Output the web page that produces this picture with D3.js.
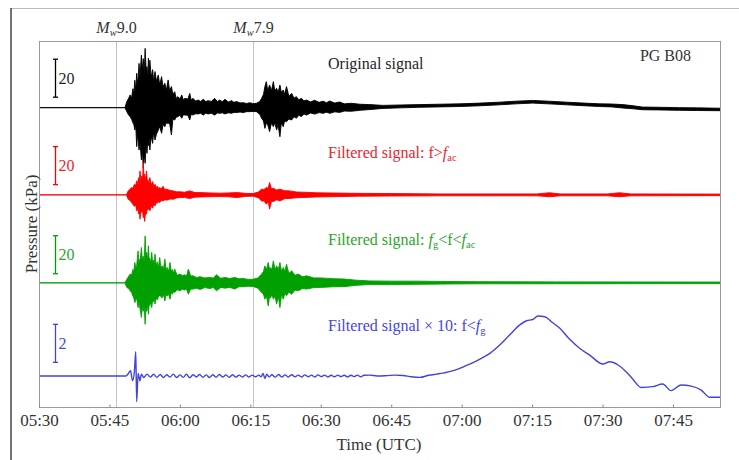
<!DOCTYPE html>
<html><head><meta charset="utf-8">
<script src="https://cdn.jsdelivr.net/npm/d3@7"></script>
<style>
body{margin:0;background:#fff}
svg{display:block}
text{font-family:"Liberation Serif","Times New Roman",serif}
</style>
</head><body>
<svg id="c" width="739" height="460"></svg>
<script>
// ---------------- DATA ----------------
// time in minutes after 05:30 UTC; values in kPa: [t, upper, lower]
const blackTrace = [[0,0,0],[18.3,0,0],[18.7,3.2,-2.1],[19.1,5,-4],[19.4,6.7,-4.7],[19.7,5,-6],[20.0,10,-8],[20.2,7,-9],[20.4,14.4,-11.8],[20.6,9,-9],[20.8,18.1,-20.5],[21.0,12,-14],[21.3,23.3,-22.3],[21.5,16,-18],[21.8,27.7,-27.5],[22.0,20,-22],[22.2,25.8,-31.9],[22.4,18,-24],[22.6,31.2,-29.3],[22.8,20,-20],[23.0,21.6,-24],[23.15,15,-17],[23.3,26,-20],[23.45,17,-16],[23.6,25,-22.3],[23.9,16,-15],[24.2,20,-18.8],[24.4,14,-13],[24.7,19,-17],[25.0,14,-14],[25.4,17.2,-11.8],[25.7,12,-10],[26.1,16.3,-13.5],[26.4,11,-9],[26.8,12.8,-10],[27.1,9,-8],[27.5,14.6,-8.3],[27.8,9,-8],[28.2,11.1,-14.4],[28.5,7,-6],[28.9,8.4,-6.5],[29.2,5,-5],[29.6,5.8,-4.7],[30.0,4.5,-4],[30.4,6.7,-5.6],[30.7,4.2,-3.8],[31.1,4.9,-3.9],[31.7,4.5,-4],[32.1,7.5,-6.5],[32.4,4,-3.5],[32.8,4.9,-3.9],[33.3,3.5,-3.2],[33.9,4.0,-3.3],[34.4,3.3,-3],[35.0,4.4,-3.9],[35.5,3.2,-2.9],[36.0,3.7,-3.3],[36.7,3.3,-3],[37.4,4.9,-3.9],[38.0,3.2,-2.8],[38.5,4.0,-3.0],[39.0,3.1,-2.7],[39.6,4.4,-3.3],[40.3,3.0,-2.7],[41.0,3.7,-3.0],[41.5,2.8,-2.5],[42.1,3.2,-2.6],[42.8,2.5,-2.3],[43.5,2.6,-2.6],[44.2,2.2,-2.1],[44.9,2.6,-2.1],[45.6,2.1,-2.0],[46.3,2.3,-2.1],[47.0,3.2,-3.5],[47.4,4.9,-5.6],[47.8,7,-7],[48.1,11.1,-10.9],[48.4,13.7,-8.2],[48.7,9,-9],[49.1,11.9,-12.6],[49.5,9,-8],[49.9,13.7,-10],[50.2,9,-8],[50.6,10.2,-11.8],[50.9,8,-9],[51.3,11.9,-15.3],[51.6,8,-8],[52.0,9.3,-10],[52.3,7,-7],[52.7,11.1,-7.4],[53.2,6,-6],[53.8,7.5,-6.5],[54.3,5,-4.8],[54.8,5.8,-5.6],[55.3,4.2,-4.0],[55.9,4.9,-4.7],[56.4,3.6,-3.4],[57.0,4.0,-3.9],[57.8,3.0,-2.8],[58.7,3.9,-3.4],[59.6,2.8,-2.6],[60.5,3.4,-3.0],[61.2,2.6,-2.4],[61.9,3.5,-3.0],[63.0,2.4,-2.2],[64.0,3.0,-2.5],[65.0,2.0,-1.8],[66.5,2.3,-1.9],[68.3,1.8,-1.4],[70.5,1.6,-1.0],[73.2,1.2,-0.4],[77,1.4,-0.1],[81.1,1.6,0.2],[85,1.8,0.4],[89.6,2.0,0.6],[94,2.4,1.0],[98.1,2.9,1.5],[101.5,3.4,2.0],[105.1,3.8,2.4],[108.5,3.4,2.0],[112.3,2.9,1.5],[116,2.4,1.0],[119.4,2.0,0.6],[122,1.9,0.4],[124.3,1.6,-0.2],[126.5,1.0,-0.6],[128.5,0.3,-1.1],[132,0.2,-1.2],[136.4,0.0,-1.4],[140,-0.1,-1.5],[145,-0.3,-1.6]];

const redTrace = [[0,0,0],[18.6,0,0],[19.0,2.1,-2.3],[19.4,3,-3],[19.7,3.9,-4.0],[20.0,3.5,-5],[20.3,5.5,-6],[20.6,5,-5.5],[20.8,7.4,-8.4],[21.0,6,-7],[21.2,9,-10],[21.35,7,-8],[21.5,12.6,-12.8],[21.7,8,-9],[21.9,10,-9],[22.05,8,-8],[22.2,17,-12],[22.35,9,-10],[22.5,11,-14],[22.7,8,-9],[22.9,12.6,-10.2],[23.05,7,-7],[23.2,8,-8],[23.4,6,-7],[23.6,9.1,-8.4],[23.9,5.5,-6],[24.2,7,-7],[24.45,4.5,-4.8],[24.7,5.6,-5.8],[25.0,4,-4],[25.2,4.5,-4.4],[25.5,3.4,-3.6],[25.7,3.9,-4.0],[26.0,3.2,-3],[26.4,4.5,-3.2],[26.8,2.8,-2.6],[27.2,3.0,-2.8],[27.9,2.3,-2.2],[28.6,2.1,-2.3],[29.3,1.6,-1.6],[30.0,1.6,-1.4],[31.0,1.4,-1.4],[32.1,2.1,-1.9],[33.2,1.2,-1.2],[34.3,1.2,-1.1],[36.5,1.0,-1.0],[38.5,0.9,-0.9],[40.3,1.0,-1.0],[42.1,1.2,-1.4],[44,0.8,-0.8],[45.6,0.7,-0.7],[46.7,1.5,-1.5],[47.4,3.0,-3.2],[47.9,2.8,-3.2],[48.4,3.9,-4.9],[48.8,3.5,-3.5],[49.1,6.5,-7.5],[49.5,3.2,-3.4],[49.9,3.5,-3.5],[50.6,2.6,-2.6],[51.3,3.0,-3.2],[52.3,2.2,-2.0],[53.4,2.1,-1.9],[54.8,1.5,-1.5],[56.2,1.4,-1.4],[59,1.1,-1.1],[62,1.0,-1.0],[68,0.8,-0.7],[75,0.7,-0.6],[85,0.5,-0.5],[95,0.5,-0.5],[106,0.5,-0.5],[108.7,1.1,-1.0],[111,0.5,-0.5],[121,0.5,-0.5],[123.6,1.1,-1.0],[126,0.5,-0.5],[145,0.4,-0.4]];

const greenTrace = [[0,0,0],[18.3,0,0],[18.7,1.9,-2.5],[19.1,3.5,-3],[19.4,4.6,-4.2],[19.7,4,-5],[20.0,7,-7],[20.2,6,-8],[20.4,10.7,-10.4],[20.6,8,-9],[20.8,9,-8],[20.95,13,-11],[21.1,16.8,-13],[21.25,10,-10],[21.4,12,-12],[21.6,13,-15],[21.8,18.6,-18.2],[22.0,12,-13],[22.2,14,-15],[22.4,11,-12],[22.6,24.7,-21.8],[22.75,14,-13],[22.9,16,-15],[23.1,12,-12],[23.3,19.5,-16.5],[23.45,12,-11],[23.6,13,-12],[23.8,10,-10],[24.0,16,-13],[24.2,10,-9],[24.4,12,-10],[24.55,9,-8],[24.7,15.1,-11.2],[24.95,9,-8],[25.2,11,-9],[25.45,8,-7],[25.7,13.3,-6.8],[25.95,8,-7],[26.2,9,-8],[26.5,7,-6],[26.8,12.5,-9.5],[27.05,7,-6],[27.3,8,-7],[27.6,6,-6],[27.9,10.7,-8.6],[28.15,6,-5],[28.4,7,-6],[28.65,5,-4.5],[28.9,7.2,-5.1],[29.4,4,-3.6],[30.0,4.6,-4.2],[30.5,3.8,-3.4],[31.0,4.2,-3.8],[31.4,3.5,-3.2],[31.8,7.2,-6],[32.3,3.6,-3.3],[32.8,3.7,-3.3],[33.5,2.8,-2.8],[34.3,3.2,-3.5],[35.3,2.6,-2.5],[36.4,2.8,-3.0],[37.1,2.5,-2.5],[37.8,4.2,-4.2],[38.7,2.4,-2.4],[39.6,2.8,-2.8],[40.6,2.3,-2.4],[41.7,2.8,-3.3],[42.6,2.1,-2.0],[43.5,2.3,-2.1],[44.5,1.8,-1.8],[45.6,1.9,-1.9],[46.6,2.5,-2.8],[47.4,4.6,-5.1],[47.8,6,-6],[48.1,8.9,-8.6],[48.45,7,-7],[48.8,10.7,-12.1],[49.1,7,-7],[49.3,8,-8],[49.6,7,-6],[49.9,11.6,-8.6],[50.25,7,-7],[50.6,8.9,-11.2],[50.95,7,-7],[51.3,10.7,-13],[51.65,6,-6],[52.0,8.1,-8.6],[52.35,6,-5.5],[52.7,9.8,-6.8],[53.2,5,-4.8],[53.8,6.3,-6],[54.5,4,-3.8],[55.2,4.6,-4.2],[56.1,3.2,-3.0],[57.0,3.7,-3.3],[58.5,2.6,-2.5],[60,2.6,-2.4],[62.5,2.2,-2.1],[65,2.0,-2.0],[67.5,1.4,-1.3],[70.4,1.0,-0.9],[75,0.9,-0.9],[80,0.9,-0.8],[87,0.7,-0.6],[93.8,0.6,-0.5],[110,0.5,-0.5],[145,0.4,-0.4]];

// blue: [t, kPa] (plotted x 10)
const blueTrace = [[0,0],[18.5,0],[19.0,0.12],[19.5,0.28],[19.9,-0.25],[20.3,0.2],[20.6,1.28],[20.8,-1.35],[21.1,0.14],[21.5,-0.25],[21.8,0.1],[22.3,-0.08],[23.0,0.1],[23.7,-0.06],[24.4,0.09],[25.1,-0.07],[25.8,0.08],[26.5,-0.08],[27.2,0.07],[27.9,-0.06],[28.6,0.1],[29.3,-0.08],[30.0,0.06],[30.7,-0.07],[31.4,0.09],[32.1,-0.09],[32.8,0.07],[33.5,-0.05],[34.2,0.08],[34.9,-0.07],[35.6,0.06],[36.3,-0.08],[37.0,0.07],[37.7,-0.06],[38.4,0.08],[39.1,-0.05],[39.8,0.06],[40.5,-0.07],[41.2,0.07],[41.9,-0.06],[42.6,0.05],[43.3,-0.05],[44.0,0.06],[44.7,-0.05],[45.4,0.05],[46.1,-0.04],[46.8,0.05],[47.3,-0.04],[47.7,0.14],[48.1,-0.13],[48.5,0.1],[49.0,-0.05],[49.6,0.07],[50.3,-0.06],[51.0,0.08],[51.7,-0.05],[52.4,0.06],[53.1,-0.05],[53.8,0.07],[54.5,-0.04],[55.2,0.05],[55.9,-0.05],[56.6,0.06],[57.3,-0.04],[58.0,0.05],[58.7,-0.05],[59.4,0.06],[60.1,-0.03],[60.8,0.05],[61.5,-0.05],[62.2,0.04],[62.9,-0.04],[63.6,0.05],[64.3,-0.03],[65.0,0.04],[65.7,-0.05],[66.4,0.04],[67.1,-0.03],[67.8,0.05],[68.5,-0.04],[69.2,0.04],[70.4,0.05],[72.0,0.0],[74.0,0.02],[75.8,0.05],[77.5,0.03],[79.3,-0.04],[81.1,-0.07],[83.0,0.04],[84.6,0.1],[86.0,0.15],[87.4,0.23],[89.6,0.4],[91.7,0.63],[93.8,0.88],[96.0,1.19],[98.1,1.63],[100.2,2.16],[102.3,2.68],[103.8,2.91],[105.2,2.98],[106.2,3.16],[107.7,3.12],[109.1,2.86],[110.9,2.51],[113.0,1.93],[115.1,1.46],[117.2,1.11],[120.1,0.63],[121.5,0.75],[123.3,0.58],[125.0,0.23],[126.5,-0.18],[128.2,-0.6],[130.7,-0.56],[132.8,-0.42],[134.6,-0.77],[136.7,-0.47],[138.9,-0.53],[141.0,-0.74],[142.8,-1.12],[145,-1.12]];

const tickLabels = ["05:30","05:45","06:00","06:15","06:30","06:45","07:00","07:15","07:30","07:45"];
const timeDomain = ["05:30","07:55"];
const eventTimes = ["05:46:24","06:15:34"];
const eventMagnitudes = ["9.0","7.9"];
const scaleBarValues = [20,20,20,2];
const traceGains = [1,1,1,10];
const stationName = "PG B08";

// ---------------- LAYOUT ----------------
const M = {left:39, right:720, top:41, bottom:407};
const pxPerUnit = 1.9;
const traceOffsets = [157.55, 111.65, 65.35, 16.3];   // baseline positions (in plot units)
const barBases = [5.5, 5.4, 4.8, 7.2];
const colors = ["#000000","#ff0000","#00a000","#4343dc"];
const textColors = ["#1e1e1e","#e8262e","#2ca42c","#4646dc"];
const FS = 16, SUB = 10.5;

const svg = d3.select("#c");
const parse = s => { const p = s.split(":").map(Number); return new Date(Date.UTC(2011,2,11,p[0],p[1],p[2]||0)); };
const t0 = parse("05:30");
const toDate = m => new Date(t0.getTime() + m*60000);
const x = d3.scaleUtc().domain(timeDomain.map(parse)).range([M.left, M.right]);
const y = d3.scaleLinear().domain([0,(M.bottom-M.top)/pxPerUnit]).range([M.bottom, M.top]);

// figure frame
svg.append("line").attr("x1",11).attr("x2",739).attr("y1",8.5).attr("y2",8.5).attr("stroke","#b8b8b8");
svg.append("line").attr("x1",11).attr("x2",11).attr("y1",8).attr("y2",460).attr("stroke","#444").attr("stroke-width",1.5);

// event lines
eventTimes.forEach((e,i)=>{
  const ex = Math.round(x(parse(e)))+0.5;
  svg.append("line").attr("x1",ex).attr("x2",ex).attr("y1",M.top).attr("y2",M.bottom)
    .attr("stroke","#c4c4c4").attr("stroke-width",1);
  const t = svg.append("text").attr("x",ex).attr("y",33).attr("text-anchor","middle")
    .attr("font-size",FS).attr("fill","#333");
  t.append("tspan").attr("font-style","italic").text("M");
  t.append("tspan").attr("font-size",SUB).attr("font-style","italic").attr("dy",3).text("w");
  t.append("tspan").attr("dy",-3).text(eventMagnitudes[i]);
});

// traces
const traces = [blackTrace, redTrace, greenTrace];
traces.forEach((tr,i)=>{
  const off = traceOffsets[i], g = traceGains[i];
  const area = d3.area().x(d=>x(toDate(d[0]))).y0(d=>y(off+d[2]*g)).y1(d=>y(off+d[1]*g));
  svg.append("path").datum(tr).attr("d",area).attr("fill",colors[i])
    .attr("stroke",colors[i]).attr("stroke-width",0.9);
});
{
  const off = traceOffsets[3], g = traceGains[3];
  const line = d3.line().x(d=>x(toDate(d[0]))).y(d=>y(off+d[1]*g)).curve(d3.curveMonotoneX);
  svg.append("path").datum(blueTrace).attr("d",line).attr("fill","none")
    .attr("stroke",colors[3]).attr("stroke-width",1.4).attr("stroke-linejoin","round");
}

// scale bars
scaleBarValues.forEach((v,i)=>{
  const b0 = y(traceOffsets[i]+barBases[i]);
  const b1 = y(traceOffsets[i]+barBases[i]+v*traceGains[i]);
  const bx = 55.5;
  const g = svg.append("g").attr("stroke",colors[i]).attr("stroke-width",1.3);
  g.append("line").attr("x1",bx).attr("x2",bx).attr("y1",b0).attr("y2",b1);
  g.append("line").attr("x1",bx-2.5).attr("x2",bx+2.5).attr("y1",b0).attr("y2",b0);
  g.append("line").attr("x1",bx-2.5).attr("x2",bx+2.5).attr("y1",b1).attr("y2",b1);
  svg.append("text").attr("x",58.5).attr("y",(b0+b1)/2+5.5).attr("font-size",FS)
    .attr("fill",textColors[i]).text(v);
});

// trace labels
const labelX = 328;
function sub(t, base, s){
  t.append("tspan").attr("font-style","italic").text(base);
  t.append("tspan").attr("font-size",SUB).attr("dy",3).text(s);
}
{
  svg.append("text").attr("x",labelX).attr("y",69).attr("font-size",FS).attr("fill",textColors[0]).text("Original signal");
  const t1 = svg.append("text").attr("x",labelX).attr("y",158).attr("font-size",FS).attr("fill",textColors[1]);
  t1.append("tspan").text("Filtered signal: f>");
  sub(t1,"f","ac");
  const t2 = svg.append("text").attr("x",labelX).attr("y",245).attr("font-size",FS).attr("fill",textColors[2]);
  t2.append("tspan").text("Filtered signal: ");
  sub(t2,"f","g");
  t2.append("tspan").attr("dy",-3).text("<f<");
  sub(t2,"f","ac");
  const t3 = svg.append("text").attr("x",labelX).attr("y",331).attr("font-size",FS).attr("fill",textColors[3]);
  t3.append("tspan").text("Filtered signal \u00d7 10: f<");
  sub(t3,"f","g");
  svg.append("text").attr("x",691).attr("y",61).attr("text-anchor","end").attr("font-size",FS).attr("fill","#333").text(stationName);
}

// frame
svg.append("rect").attr("x",M.left+0.5).attr("y",M.top+0.5).attr("width",M.right-M.left).attr("height",M.bottom-M.top)
  .attr("fill","none").attr("stroke","#9a9a9a").attr("stroke-width",1);

// x axis
const ax = d3.axisBottom(x).tickValues(tickLabels.map(parse)).tickFormat(d3.utcFormat("%H:%M"))
  .tickSizeInner(-3).tickSizeOuter(0).tickPadding(6);
const axg = svg.append("g").attr("transform",`translate(0,${M.bottom+0.5})`).call(ax);
axg.select(".domain").remove();
axg.selectAll(".tick line").attr("stroke","#888");
axg.selectAll("text").attr("font-size",17).attr("fill","#333").attr("font-family","Liberation Serif");

svg.append("text").attr("x",379).attr("y",450).attr("text-anchor","middle").attr("font-size",17).attr("fill","#333").text("Time (UTC)");
svg.append("text").attr("transform","translate(37,224) rotate(-90)").attr("text-anchor","middle")
  .attr("font-size",17).attr("fill","#333").text("Pressure (kPa)");
</script>
</body></html>
